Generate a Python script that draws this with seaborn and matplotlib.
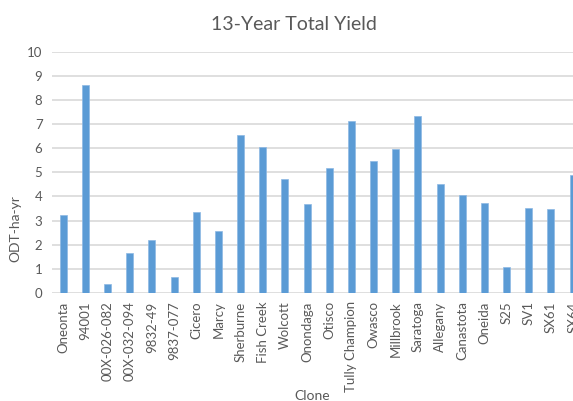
import matplotlib
matplotlib.use("Agg")
import matplotlib.pyplot as plt
import seaborn as sns
import pandas as pd

clones = ["Oneonta", "94001", "00X-026-082", "00X-032-094", "9832-49", "9837-077",
          "Cicero", "Marcy", "Sherburne", "Fish Creek", "Wolcott", "Onondaga",
          "Otisco", "Tully Champion", "Owasco", "Millbrook", "Saratoga", "Allegany",
          "Canastota", "Oneida", "S25", "SV1", "SX61", "SX64"]
yields = [3.22, 8.62, 0.37, 1.67, 2.20, 0.68, 3.35, 2.57, 6.56, 6.05, 4.72, 3.68,
          5.17, 7.11, 5.48, 5.96, 7.32, 4.51, 4.08, 3.72, 1.09, 3.51, 3.50, 4.87]
yticks = list(range(0, 11))
title = "13-Year Total Yield"
xlabel = "Clone"
ylabel = "ODT-ha-yr"

sns.set_theme(style="white")
plt.rcParams['font.family'] = ['Lato', 'DejaVu Sans']

W, H = 573, 401
fig = plt.figure(figsize=(W / 100, H / 100), dpi=100)
ax = fig.add_axes([52.2 / W, 108 / H, 532 / W, 241.3 / H])

df = pd.DataFrame({"Clone": clones, "Yield": yields})
sns.barplot(data=df, x="Clone", y="Yield", color="#5B9BD5", saturation=1,
            width=0.32, ax=ax, edgecolor="#8DB9E4", linewidth=0.5)

ax.set_ylim(0, 10)
ax.set_xlim(-0.5, len(clones) - 0.5)
ax.set_yticks(yticks)
ax.yaxis.grid(True, color="#D9D9D9", linewidth=1.2)
ax.xaxis.grid(False)
ax.set_axisbelow(True)
for s in ax.spines.values():
    s.set_visible(False)
ax.set_xlabel("")
ax.set_ylabel("")
ax.tick_params(axis='x', rotation=90, length=0, pad=6, labelsize=9.5, colors="#595959")
ax.tick_params(axis='y', length=0, pad=7, labelsize=9.5, colors="#595959")

fig.text(293.7 / W, 1 - 29.5 / H, title, ha='center', va='baseline',
         fontsize=14, color="#595959")
fig.text(311.7 / W, 1 - 400 / H, xlabel, ha='center', va='baseline',
         fontsize=10, color="#595959")
fig.text(15 / W, 172 / H, ylabel, ha='center', va='center', rotation=90,
         fontsize=10, color="#595959")

fig.savefig("out.png", dpi=100)
